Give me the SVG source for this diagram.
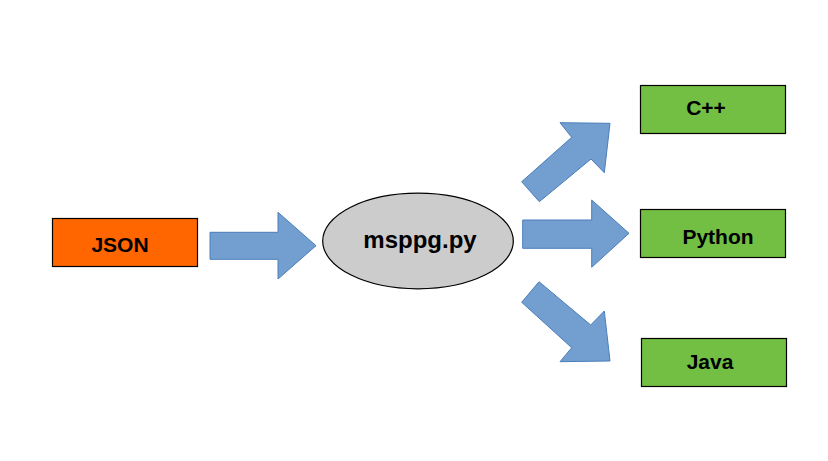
<svg xmlns="http://www.w3.org/2000/svg" width="828" height="461" viewBox="0 0 828 461">
<style>
.box{stroke:#000;stroke-width:1.2}
.lbl{font-family:"Liberation Sans",Arial,sans-serif;font-weight:bold;font-size:21px;fill:#000;text-anchor:middle}
.arr{fill:#729fcf;stroke:#4a7ebb;stroke-width:1}
</style>
<rect width="828" height="461" fill="#fff"/>
<g id="json">
<rect class="box" x="52.5" y="218.5" width="145" height="48" fill="#ff6600"/>
<text class="lbl" x="120" y="252">JSON</text>
</g>
<g id="msppg">
<ellipse cx="418" cy="241" rx="95.3" ry="47.8" fill="#cccccc" stroke="#000" stroke-width="1.2"/>
<text class="lbl" x="420" y="248" style="font-size:24px">msppg.py</text>
</g>
<g id="cpp">
<rect class="box" x="640.5" y="85.5" width="145" height="48" fill="#72bf44"/>
<text class="lbl" x="706" y="115">C++</text>
</g>
<g id="python">
<rect class="box" x="640.5" y="209.5" width="145" height="48" fill="#72bf44"/>
<text class="lbl" x="718" y="244">Python</text>
</g>
<g id="java">
<rect class="box" x="641.5" y="338.5" width="145" height="48" fill="#72bf44"/>
<text class="lbl" x="710" y="369">Java</text>
</g>
<g id="connectors">
<polygon class="arr" points="210,232.3 278,232.3 278,212.3 316,245.7 278,279 278,259.3 210,259.3"/>
<polygon class="arr" points="522.7,220 591.7,220 591.7,200 629,233.3 591.7,267.3 591.7,248.3 522.7,248.3"/>
<polygon class="arr" points="521.7,181.7 571.7,137.3 560,122.7 610,123.3 604.3,172.7 591,159 539.3,201.7"/>
<polygon class="arr" points="539,281.7 590.7,325 604.3,311 610,361 560,361.7 571.7,347.7 521.7,302.3"/>
</g>
</svg>
